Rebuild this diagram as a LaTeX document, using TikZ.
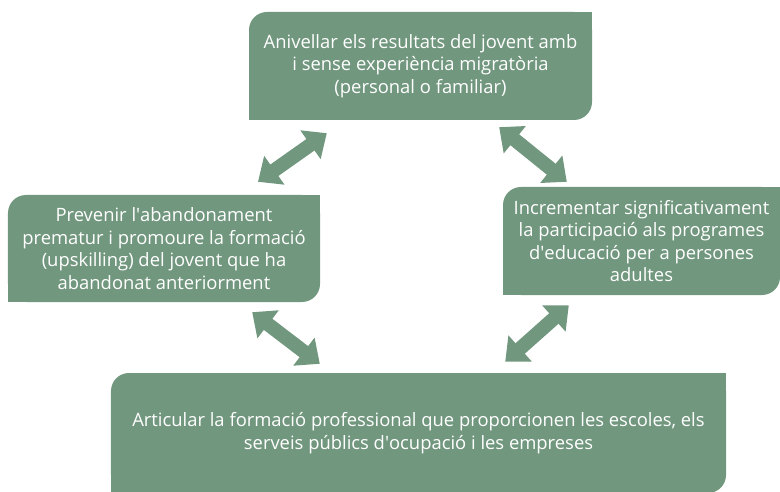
\documentclass[tikz,border=0pt]{standalone}
\usepackage{fontspec}
\setmainfont{Open Sans}
\usetikzlibrary{arrows.meta,backgrounds}
\definecolor{goalgreen}{RGB}{113,151,126}

\newcommand{\sharpcorners}[1]{%
  \fill[goalgreen] ([xshift=-20bp]#1.north east) rectangle ([yshift=-20bp]#1.north east);
  \fill[goalgreen] ([xshift=20bp]#1.south west) rectangle ([yshift=20bp]#1.south west);}

\begin{document}
\begin{tikzpicture}[x=1bp, y=-1bp,
  goal/.style={fill=goalgreen, rounded corners=18bp, text=white, align=center, inner sep=0pt, font=\fontsize{18.4bp}{22.5bp}\selectfont},
  link/.style={goalgreen, line width=14bp, {Triangle[length=20bp,width=34bp]}-{Triangle[length=20bp,width=34bp]}}]
\useasboundingbox (0,0) rectangle (780,492);
\node[goal, minimum width=343bp, minimum height=108bp] (aim) at (420.5,66) {Anivellar els resultats del jovent amb\\i sense experiència migratòria\\(personal o familiar)};
\node[goal, minimum width=312bp, minimum height=107bp] (prevent) at (164,248.5) {Prevenir l\textquotesingle abandonament\\prematur i promoure la formació\\(upskilling) del jovent que ha\\abandonat anteriorment};
\node[goal, minimum width=277bp, minimum height=108bp] (adults) at (641.5,241) {Incrementar significativament\\la participació als programes\\d\textquotesingle educació per a persones\\adultes};
\node[goal, minimum width=615bp, minimum height=120bp] (vocational) at (418.5,433) {Articular la formació professional que proporcionen les escoles, els\\serveis públics d\textquotesingle ocupació i les empreses};
\begin{scope}[on background layer]
  \sharpcorners{aim}
  \sharpcorners{prevent}
  \sharpcorners{adults}
  \sharpcorners{vocational}
\end{scope}
\draw[link] ([shift={(78,13)}]aim.south west) -- ([shift={(94,-13)}]prevent.north);
\draw[link] ([shift={(-93,7)}]aim.south east) -- ([shift={(64,-5)}]adults.north west);
\draw[link] ([shift={(-68,10)}]prevent.south east) -- ([shift={(209,-9)}]vocational.north west);
\draw[link] ([shift={(66,10)}]adults.south west) -- ([shift={(-221,-11)}]vocational.north east);
\end{tikzpicture}
\end{document}
